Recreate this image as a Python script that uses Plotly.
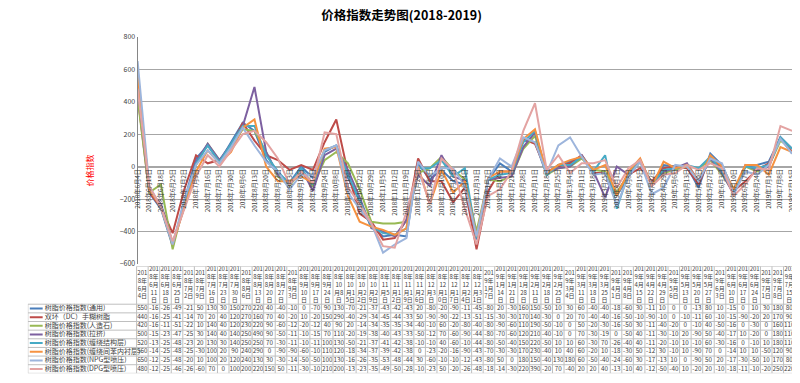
import plotly.graph_objects as go

x_labels = ["2018年6月4日","2018年6月11日","2018年6月18日","2018年6月25日","2018年7月2日","2018年7月9日",
            "2018年7月16日","2018年7月23日","2018年7月30日","2018年8月6日","2018年8月13日","2018年8月20日",
            "2018年8月27日","2018年9月3日","2018年9月10日","2018年9月17日","2018年9月24日","2018年10月8日",
            "2018年10月15日","2018年10月22日","2018年10月29日","2018年11月5日","2018年11月12日","2018年11月19日",
            "2018年11月26日","2018年12月3日","2018年12月10日","2018年12月17日","2018年12月24日","2018年12月31日",
            "2019年1月7日","2019年1月14日","2019年1月21日","2019年1月28日","2019年2月11日","2019年2月18日",
            "2019年2月25日","2019年3月4日","2019年3月11日","2019年3月18日","2019年3月25日","2019年4月1日",
            "2019年4月8日","2019年4月15日","2019年4月22日","2019年4月29日","2019年5月6日","2019年5月13日",
            "2019年5月20日","2019年5月27日","2019年6月3日","2019年6月10日","2019年6月17日","2019年6月24日",
            "2019年7月1日","2019年7月8日","2019年7月15日"]

series_names = ["树脂价格指数(通用)", "双环（DC）手糊树脂", "树脂价格指数(人造石)", "树脂价格指数(拉挤)",
                "树脂价格指数(缠绕结构层)", "树脂价格指数(缠绕间苯内衬层)", "树脂价格指数(NPG型喷压)",
                "树脂价格指数(DPG型喷压)"]

s_general = [550,-160,-260,-490,-210,50,130,30,150,270,220,40,-40,-100,0,-70,90,130,-70,-210,-370,-430,-420,-430,
             20,-80,-20,-90,-110,-450,-80,20,-30,160,150,-50,10,30,60,-40,-40,-180,-60,30,-110,10,0,0,-130,80,10,
             -150,0,10,30,180,80]
s_dc = [440,-160,-250,-410,-140,70,20,40,120,270,160,70,40,-20,10,-20,150,290,-40,-290,-340,-450,-440,-330,
        50,-90,-90,-220,-130,-510,-150,-30,-30,170,140,-30,0,20,70,-40,-40,-160,-50,-10,-90,-10,0,-10,-110,60,-10,
        -150,-90,-20,20,170,90]
s_stone = [420,-160,-110,-510,-220,10,140,40,120,230,220,90,-60,-120,-20,-120,40,90,20,-140,-340,-350,-350,-340,
           -40,-10,60,-20,-80,-400,-80,-90,-60,110,190,-50,-10,0,50,-20,-30,-160,-50,30,-110,-40,-20,0,-10,40,-50,
           -160,0,-30,0,160,110]
s_pultrusion = [500,-150,-230,-470,-250,30,140,40,140,250,490,90,-50,-110,-10,-150,70,110,-20,-190,-380,-400,-430,-330,
                -50,-120,70,-60,-90,-440,-80,-70,-60,120,210,-40,-10,0,70,-30,-190,0,-50,40,-110,-30,-10,20,-90,50,-40,
                -170,10,-20,0,180,110]
s_winding = [520,-130,-250,-480,-230,20,130,30,140,250,250,70,-30,-110,-10,-110,100,130,-50,-210,-370,-410,-420,-380,
             -10,-10,40,-60,-10,-440,-80,-50,-40,150,220,-50,10,10,60,-30,70,-260,-40,40,-110,-20,-10,10,-10,60,-30,
             -160,0,-10,10,180,110]
s_lining = [560,-140,-250,-480,-250,-30,100,20,90,240,290,0,-90,-90,-60,-100,110,120,-180,-340,-370,-390,-420,-380,
            0,-230,-20,-160,-90,-430,-70,-30,-30,170,230,-40,10,40,60,-20,10,-180,-30,50,-120,30,-10,10,-90,70,0,
            -140,10,10,-50,120,90]
s_npg = [650,-120,-250,-480,-200,10,100,20,120,240,130,30,-30,-140,-50,-50,100,130,-160,-260,-350,-530,-480,-440,
         30,-60,-10,-10,-120,-430,-80,50,0,180,150,-40,130,180,60,-50,-40,-240,-60,30,-170,-130,10,0,-90,50,20,
         -170,-30,-50,10,170,80]
s_dpg = [480,-120,-250,-460,-260,-60,70,0,100,200,220,150,50,-110,-30,-100,210,200,-130,-230,-350,-490,-500,-280,
         -10,-230,50,-20,-260,-480,-180,-140,-30,220,390,-20,70,-40,20,20,40,-130,-10,40,-120,-50,-40,10,-20,20,-10,
         -180,-110,-10,-20,250,220]

series_values = [s_general, s_dc, s_stone, s_pultrusion, s_winding, s_lining, s_npg, s_dpg]
colors = ["#4A7EBB", "#BE4B48", "#98B954", "#7D60A0", "#46AAC5", "#F69240", "#9DB5DC", "#E3A3A2"]

W, H = 800, 383
def py(p):  # pixel y -> paper
    return 1 - p / H

def wrap(s, maxw=3):
    lines, cur, w = [], "", 0
    for ch in s:
        cw = 1 if ch.isascii() else 2
        if w + cw > maxw and cur:
            lines.append(cur)
            cur, w = "", 0
        cur += ch
        w += cw
    lines.append(cur)
    return "<br>".join(lines)

def cell_text(v):
    return str(v)[:3]

fig = go.Figure()
xs = list(range(len(x_labels)))
for name, vals, col in zip(series_names, series_values, colors):
    fig.add_trace(go.Scatter(x=xs, y=vals, mode="lines", name=name,
                             line=dict(color=col, width=2), showlegend=False))

# ---------- data table (drawn on its own axes x2/y2, units: column / pixel) ----------
ncol = len(x_labels)
col_w = 666 / ncol                 # pixel width of one data column
leg_units = 110 / col_w            # legend column width in column units
tbl_top, tbl_bot = 259, 369
hdr_h = 39
row_h = (tbl_bot - tbl_top - hdr_h) / len(series_names)
y_hdr_bot = (tbl_bot - tbl_top) - hdr_h   # in y2 units (pixels from bottom)
grid = "#BFBFBF"

# header texts
fig.add_trace(go.Scatter(x=[j + 0.5 for j in range(ncol)], y=[y_hdr_bot + hdr_h / 2] * ncol,
                         mode="text", text=[wrap(l) for l in x_labels], textposition="middle center",
                         textfont=dict(size=6, color="#404040"), xaxis="x2", yaxis="y2",
                         showlegend=False, hoverinfo="skip", cliponaxis=False))
# data rows
for i, (name, vals) in enumerate(zip(series_names, series_values)):
    yc = y_hdr_bot - row_h * (i + 0.5)
    fig.add_trace(go.Scatter(x=[j + 0.5 for j in range(ncol)], y=[yc] * ncol, mode="text",
                             text=[cell_text(v) for v in vals], textposition="middle center",
                             textfont=dict(size=6.3, color="#404040"), xaxis="x2", yaxis="y2",
                             showlegend=False, hoverinfo="skip", cliponaxis=False))
    fig.add_trace(go.Scatter(x=[-leg_units + 17 / col_w], y=[yc], mode="text", text=[name],
                             textposition="middle right", textfont=dict(size=7, color="#404040"),
                             xaxis="x2", yaxis="y2", showlegend=False, hoverinfo="skip", cliponaxis=False))
    fig.add_shape(type="line", xref="x2", yref="y2", x0=-leg_units + 2 / col_w, x1=-leg_units + 15 / col_w,
                  y0=yc, y1=yc, line=dict(color=colors[i], width=2))

# table borders
fig.add_shape(type="line", xref="x2", yref="y2", x0=0, x1=ncol, y0=tbl_bot - tbl_top, y1=tbl_bot - tbl_top,
              line=dict(color=grid, width=1))
for k in range(len(series_names) + 1):
    yv = y_hdr_bot - row_h * k
    fig.add_shape(type="line", xref="x2", yref="y2", x0=-leg_units, x1=ncol, y0=yv, y1=yv,
                  line=dict(color=grid, width=1))
fig.add_shape(type="line", xref="x2", yref="y2", x0=-leg_units, x1=-leg_units, y0=0, y1=y_hdr_bot,
              line=dict(color=grid, width=1))
for j in range(ncol + 1):
    fig.add_shape(type="line", xref="x2", yref="y2", x0=j, x1=j, y0=0, y1=tbl_bot - tbl_top,
                  line=dict(color=grid, width=1))

fig.add_annotation(text="价格指数", textangle=-90, x=70 / W, y=py(161), xref="paper", yref="paper",
                   showarrow=False, font=dict(size=8, color="#FF0000"))

fig.update_layout(
    width=W, height=H, margin=dict(l=0, r=0, t=0, b=0),
    paper_bgcolor="white", plot_bgcolor="white", showlegend=False,
    font=dict(family="Noto Sans CJK SC, sans-serif", color="#404040"),
    title=dict(text="<b>价格指数走势图(2018-2019)</b>", x=0.492, xanchor="center", y=py(8), yanchor="middle",
               font=dict(size=12.5, color="#000000")),
    xaxis=dict(domain=[126 / W, 788 / W], range=[0, 56], anchor="free", position=py(156.7),
               tickmode="array", tickvals=xs, ticktext=x_labels, tickangle=-90,
               tickfont=dict(size=6.3, color="#404040"), showgrid=False, zeroline=False,
               showline=False, ticks=""),
    yaxis=dict(domain=[py(256.7), py(23.3)], range=[-600, 800], dtick=200, tick0=0,
               gridcolor="#A6A6A6", gridwidth=1, zeroline=True, zerolinecolor="#A6A6A6",
               showline=True, linecolor="#868686", linewidth=1, ticks="",
               tickfont=dict(size=7, color="#404040")),
    xaxis2=dict(domain=[15 / W, 791 / W], range=[-leg_units, ncol], anchor="y2", visible=False,
                fixedrange=True),
    yaxis2=dict(domain=[py(tbl_bot), py(tbl_top)], range=[0, tbl_bot - tbl_top], anchor="x2",
                visible=False, fixedrange=True),
)

fig.write_html("out.html")
